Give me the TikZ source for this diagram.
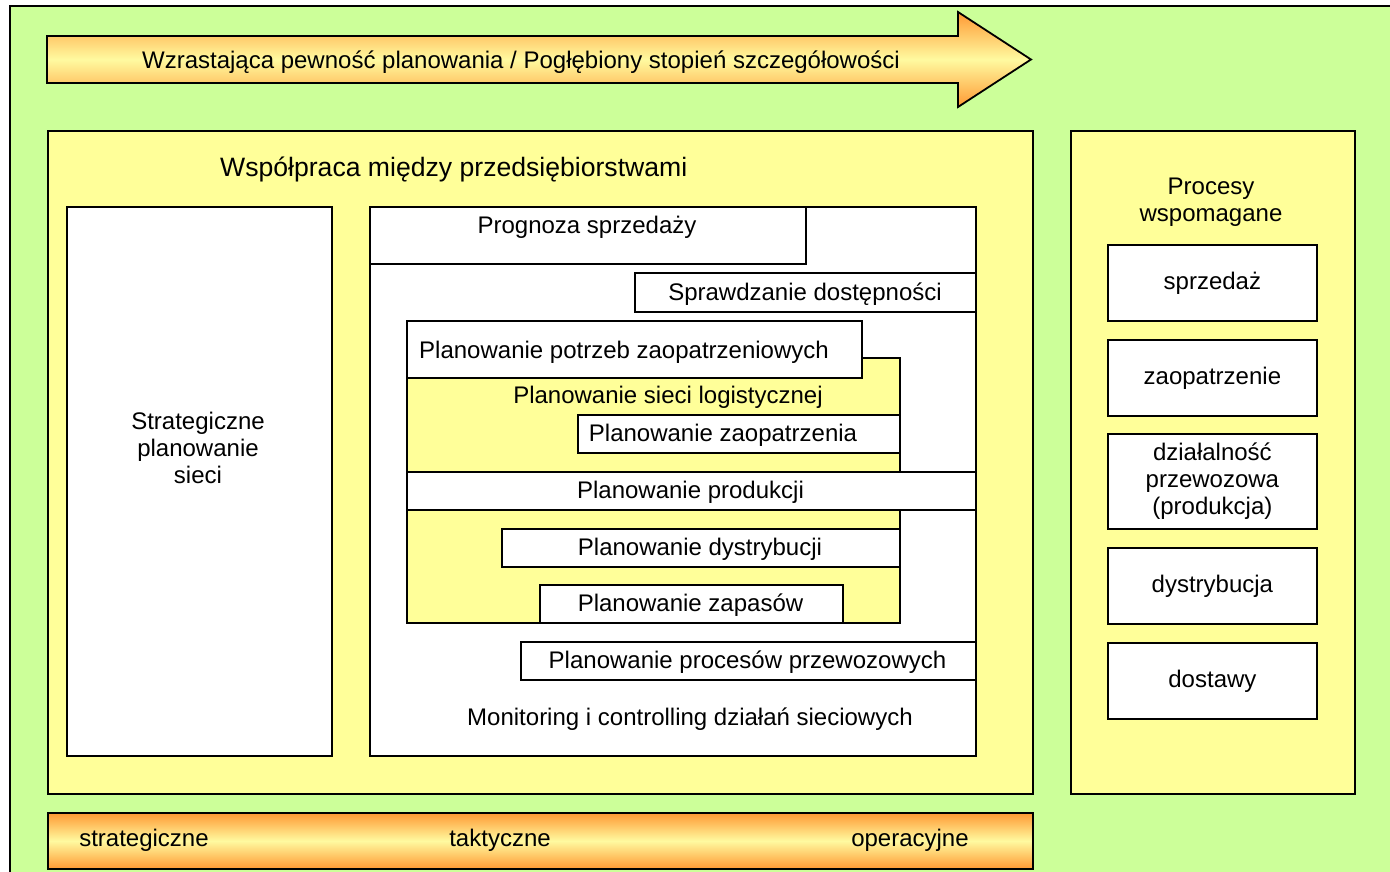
\documentclass[tikz,border=0pt]{standalone}
\usepackage{fontspec}
\setmainfont{Liberation Sans}
\usetikzlibrary{shadows}
\definecolor{bggreen}{RGB}{204,255,153}
\definecolor{pyellow}{RGB}{255,255,153}
\definecolor{orng}{RGB}{255,153,51}
\definecolor{lyel}{RGB}{255,250,160}
\newcommand\fs{\fontsize{24}{27}\selectfont}
\newcommand\fst{\fontsize{26.6}{30}\selectfont}
\tikzset{
  bx/.style={draw, line width=1.8pt, fill=white, inner sep=0pt, anchor=north west, font=\fs, align=center},
  ybx/.style={bx, fill=pyellow, drop shadow={shadow xshift=1.5pt, shadow yshift=-1.5pt, opacity=0.7, fill=black!70}},
  txt/.style={inner sep=0pt, font=\fs, align=center, yshift=-2pt},
  grad/.style={top color=orng, bottom color=orng, middle color=lyel},
}
\begin{document}
\begin{tikzpicture}[x=1pt,y=-1pt]
\useasboundingbox (0,0) rectangle (1390,872);
\begin{scope}
\clip (0,0) rectangle (1390,872);
\fill[white] (0,0) rectangle (1390,872);
\draw[line width=1.8pt, fill=bggreen] (10,6) rectangle (1400,890);
\end{scope}
% top arrow
\draw[line width=1.8pt, grad] (47,36) -- (958,36) -- (958,12) -- (1031,59.5) -- (958,107) -- (958,83) -- (47,83) -- cycle;
\node[txt] (arrowtxt) at (521,60) {Wzrastająca pewność planowania / Pogłębiony stopień szczegółowości};
% big yellow box
\node[ybx, minimum width=985pt, minimum height=663pt] (coop) at (47,130) {};
\node[txt, font=\fst, anchor=west] (cooptxt) at (220,167) {Współpraca między przedsiębiorstwami};
% right yellow box
\node[ybx, minimum width=284pt, minimum height=663pt] (proc) at (1070,130) {};
\node[txt] (proctxt) at (1211,200.5) {Procesy\\wspomagane};
\node[bx, minimum width=209pt, minimum height=76pt] (sprz) at (1107,244) {sprzedaż};
\node[bx, minimum width=209pt, minimum height=76pt] (zaop) at (1107,339) {zaopatrzenie};
\node[bx, minimum width=209pt, minimum height=95pt] (dzial) at (1107,433) {działalność\\przewozowa\\(produkcja)};
\node[bx, minimum width=209pt, minimum height=76pt] (dystr) at (1107,547) {dystrybucja};
\node[bx, minimum width=209pt, minimum height=76pt] (dost) at (1107,642) {dostawy};
% strategic
\node[bx, minimum width=265pt, minimum height=549pt] (strat) at (66,206) {};
\node[txt] (strattxt) at (198,446) {Strategiczne\\planowanie\\sieci};
% monitoring
\node[bx, minimum width=606pt, minimum height=549pt] (mon) at (369,206) {};
\node[txt] (montxt) at (690,717) {Monitoring i controlling działań sieciowych};
\node[bx, minimum width=436pt, minimum height=57pt] (prog) at (369,206) {};
\node[txt] (progtxt) at (587,225) {Prognoza sprzedaży};
\node[bx, minimum width=341pt, minimum height=39pt] (spr) at (634,272) {};
\node[txt] (sprtxt) at (805,292) {Sprawdzanie dostępności};
% yellow region 1
\node[bx, fill=pyellow, minimum width=493pt, minimum height=114pt] (siec) at (406,357) {};
\node[bx, minimum width=455pt, minimum height=57pt] (ppz) at (406,320) {};
\node[txt] (ppztxt) at (624,350) {Planowanie potrzeb zaopatrzeniowych};
\node[txt] (sieccap) at (668,395) {Planowanie sieci logistycznej};
\node[bx, minimum width=322pt, minimum height=38pt] (pz) at (577,414) {};
\node[txt] (pztxt) at (723,433) {Planowanie zaopatrzenia};
% yellow region 2
\node[bx, fill=pyellow, minimum width=493pt, minimum height=113pt] (siec2) at (406,509) {};
\node[bx, minimum width=569pt, minimum height=38pt] (prod) at (406,471) {};
\node[txt] (prodtxt) at (690.5,490) {Planowanie produkcji};
\node[bx, minimum width=398pt, minimum height=38pt] (dys) at (501,528) {};
\node[txt] (dystxt) at (700,547) {Planowanie dystrybucji};
\node[bx, minimum width=303pt, minimum height=38pt] (zap) at (539,584) {};
\node[txt] (zaptxt) at (690.5,603) {Planowanie zapasów};
\node[bx, minimum width=455pt, minimum height=38pt] (przew) at (520,641) {};
\node[txt] (przewtxt) at (747.5,660) {Planowanie procesów przewozowych};
% bottom bar
\node[bx, grad, drop shadow={shadow xshift=1.5pt, shadow yshift=-1.5pt, opacity=0.7, fill=black!70}, minimum width=985pt, minimum height=56pt] (bar) at (47,812) {};
\node[txt] (s1) at (144,838) {strategiczne};
\node[txt] (s2) at (500,838) {taktyczne};
\node[txt] (s3) at (910,838) {operacyjne};
\end{tikzpicture}
\end{document}
